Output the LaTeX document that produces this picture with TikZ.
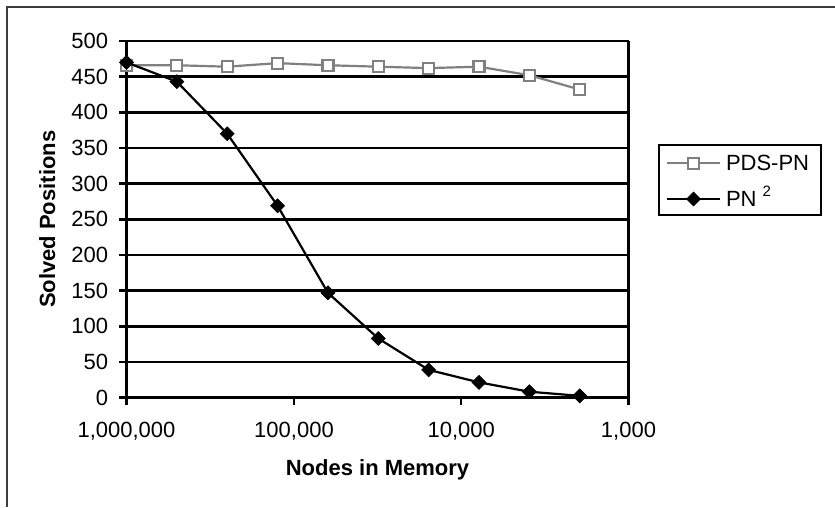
\documentclass[tikz,border=0pt]{standalone}
\usepackage{fontspec}
\setmainfont{Liberation Sans}
\usetikzlibrary{shapes.geometric}
\definecolor{sergray}{RGB}{128,128,128}
\definecolor{framegray}{RGB}{60,60,60}
\begin{document}
\begin{tikzpicture}[x=1pt,y=-1pt,
  every node/.style={font=\fontsize{22}{26}\selectfont, inner sep=0pt, outer sep=0pt},
  gridline/.style={line width=2.5pt, black},
  frameline/.style={line width=1.6pt, framegray},
  serA/.style={line width=2.2pt, sergray},
  serB/.style={line width=2.2pt, black},
  sqmark/.style={rectangle, draw=sergray, fill=white, line width=2.2pt, minimum size=11pt},
  dmmark/.style={diamond, fill=black, draw=black, line width=0.6pt, minimum size=14pt},
  ylab/.style={anchor=base east},
  xlab/.style={anchor=base},
  axtitle/.style={font=\fontsize{22}{26}\selectfont\bfseries, anchor=base},
  legbox/.style={draw=black, line width=2pt, minimum width=161.7pt, minimum height=70pt, anchor=north west}
]
\useasboundingbox (0,0) rectangle (835,507);
% outer frame
\coordinate (fbl) at (7,507);
\coordinate (ftl) at (7,7);
\coordinate (ftr) at (835,7);
\draw[frameline] (fbl) -- (ftl) -- (ftr);

% plot area corners
\coordinate (o) at (126.5,397.7);
\coordinate (xr) at (628.5,397.7);
\coordinate (yt) at (126.5,41);
\coordinate (tr) at (628.5,41);

% horizontal grid lines and y ticks / labels
\foreach \v in {0,50,...,500}{
  \coordinate (gl\v) at (119,{397.7-0.7134*\v});
  \coordinate (gr\v) at (628.5,{397.7-0.7134*\v});
  \draw[gridline] (gl\v) -- (gr\v);
  \node[ylab] (yl\v) at (108,{397.7-0.7134*\v+7.5}) {\v};
}
% axes
\draw[gridline] (126.5,405) -- (yt);
\draw[gridline] (628.5,405) -- (tr);
\coordinate (xt2) at (294.0,405);
\coordinate (xt2a) at (294.0,397.7);
\coordinate (xt3) at (461.2,405);
\coordinate (xt3a) at (461.2,397.7);
\draw[gridline] (xt2a) -- (xt2);
\draw[gridline] (xt3a) -- (xt3);

% x labels
\node[xlab] (xl1) at (126.5,437) {1,000,000};
\node[xlab] (xl2) at (294.0,437) {100,000};
\node[xlab] (xl3) at (461.2,437) {10,000};
\node[xlab] (xl4) at (628.5,437) {1,000};

% axis titles
\node[axtitle] (xtitle) at (377.5,475.5) {Nodes in Memory};
\node[axtitle, rotate=90] (ytitle) at (55,219.3) {Solved Positions};

% data
\foreach \v [count=\i] in {466,466,464,469,466,464,462,464,452,432}
  \coordinate (p\i) at ({126.5+50.36*(\i-1)},{397.7-0.7134*\v});
\foreach \v [count=\i] in {470,443,370,269,147,83,39,21.5,8.4,2.6}
  \coordinate (q\i) at ({126.5+50.36*(\i-1)},{397.7-0.7134*\v});

\draw[serA, line join=round] (p1) \foreach \i in {2,...,10}{ -- (p\i)};
\foreach \i in {1,...,10} \node[sqmark] (ps\i) at (p\i) {};
\draw[serB, line join=round] (q1) \foreach \i in {2,...,10}{ -- (q\i)};
\foreach \i in {1,...,10} \node[dmmark] (qs\i) at (q\i) {};

% legend
\node[legbox] (leg) at (659.3,145) {};
\coordinate (l1a) at (666.7,163.3);
\coordinate (l1b) at (720,163.3);
\coordinate (l2a) at (666.7,199);
\coordinate (l2b) at (720,199);
\draw[serA] (l1a) -- (l1b);
\node[sqmark] (lm1) at (693.5,163.3) {};
\draw[serB] (l2a) -- (l2b);
\node[dmmark] (lm2) at (693.5,199) {};
\node[anchor=base west] (lt1) at (726,170.8) {PDS-PN};
\node[anchor=base west] (lt2) at (726,206.5) {PN\hspace{6pt}\raisebox{0.45em}{\fontsize{15}{15}\selectfont 2}};
\end{tikzpicture}
\end{document}
